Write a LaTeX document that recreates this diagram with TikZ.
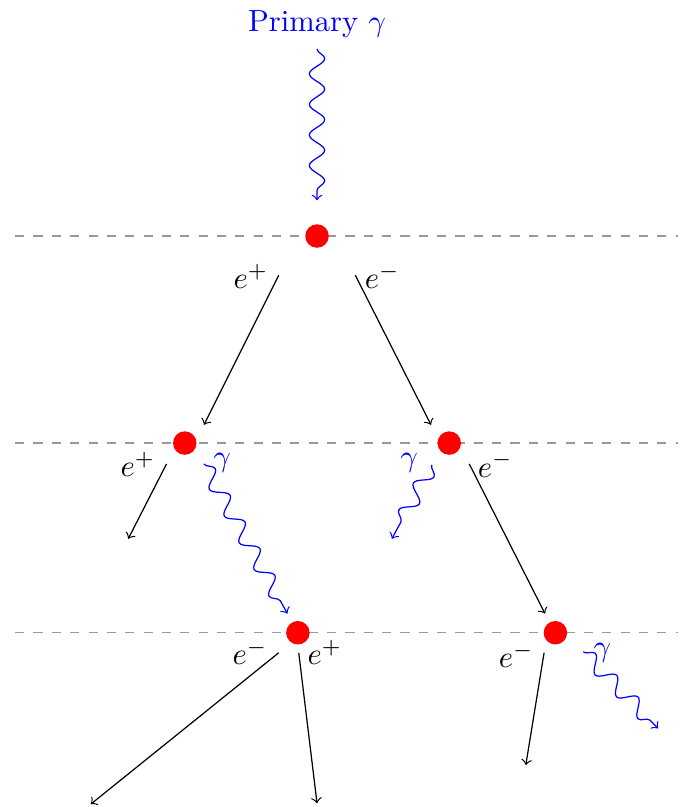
\documentclass[tikz,border=0pt]{standalone}
\usepackage{amsmath,amssymb}
\usetikzlibrary{calc,decorations.pathmorphing}

\begin{document}
\begin{tikzpicture}[
  vertex/.style={circle, fill=red, inner sep=0pt, minimum size=2.7mm},
  photon/.style={blue, decorate, decoration={snake, post length=2pt}, ->},
  layer/.style={gray!80, dashed},
]

% Parameters
\def\xl{-3.47}  % left end of layers
\def\xr{4.15}   % right end of layers
\def\ya{-2.38}  % second layer
\def\yb{-4.56}  % third layer

\useasboundingbox (-3.644,-6.563) rectangle (4.230,2.713);

% Layers
\draw[layer] (\xl,0) -- (\xr,0);
\draw[layer] (\xl,\ya) -- (\xr,\ya);
\draw[layer] (\xl,\yb) -- (\xr,\yb);

% Interaction points
\node[vertex] (v0) at (0,0) {};
\node[vertex] (v1) at (-1.52,\ya) {};
\node[vertex] (v2) at (1.52,\ya) {};
\node[vertex] (v3) at (-0.22,\yb) {};
\node[vertex] (v4) at (2.74,\yb) {};

% Primary photon
\node[blue] (prim) at (0,2.43) {Primary $\gamma$};
\draw[photon] (prim.south) -- ($(v0)+(0,0.41)$);

% First pair
\draw[->] ($(v0)+(-0.44,-0.45)$) -- ($(v1)+(0.22,0.21)$);
\draw[->] ($(v0)+(0.44,-0.45)$) -- ($(v2)+(-0.21,0.21)$);
\node (ep0) at (-0.76,-0.46) {$e^+$};
\node (em0) at (0.75,-0.46) {$e^-$};

% Bremsstrahlung from the positron
\coordinate (o1) at (-2.17,-3.48);
\draw[->] ($(v1)+(-0.21,-0.24)$) -- (o1);
\draw[photon] ($(v1)+(0.22,-0.24)$) -- ($(v3)+(-0.12,0.22)$);
\node (ep1) at (-2.06,-2.62) {$e^+$};
\node[blue] (g1) at (-1.09,-2.61) {$\gamma$};

% Bremsstrahlung from the electron
\coordinate (o2) at (0.86,-3.48);
\draw[photon] ($(v2)+(-0.20,-0.25)$) -- (o2);
\draw[->] ($(v2)+(0.23,-0.24)$) -- ($(v4)+(-0.12,0.22)$);
\node[blue] (g2) at (1.06,-2.61) {$\gamma$};
\node (em2) at (2.05,-2.63) {$e^-$};

% Second pair
\coordinate (o3) at (-2.60,-6.53);
\coordinate (o4) at (0,-6.52);
\draw[->] ($(v3)+(-0.22,-0.23)$) -- (o3);
\draw[->] ($(v3)+(0.01,-0.23)$) -- (o4);
\node (em3) at (-0.77,-4.79) {$e^-$};
\node (ep3) at (0.09,-4.79) {$e^+$};

% Last electron
\coordinate (o5) at (2.40,-6.08);
\coordinate (o6) at (3.92,-5.66);
\draw[->] ($(v4)+(-0.13,-0.23)$) -- (o5);
\draw[photon] ($(v4)+(0.32,-0.22)$) -- (o6);
\node (em4) at (2.29,-4.82) {$e^-$};
\node[blue] (g4) at (3.28,-4.79) {$\gamma$};

\end{tikzpicture}
\end{document}
